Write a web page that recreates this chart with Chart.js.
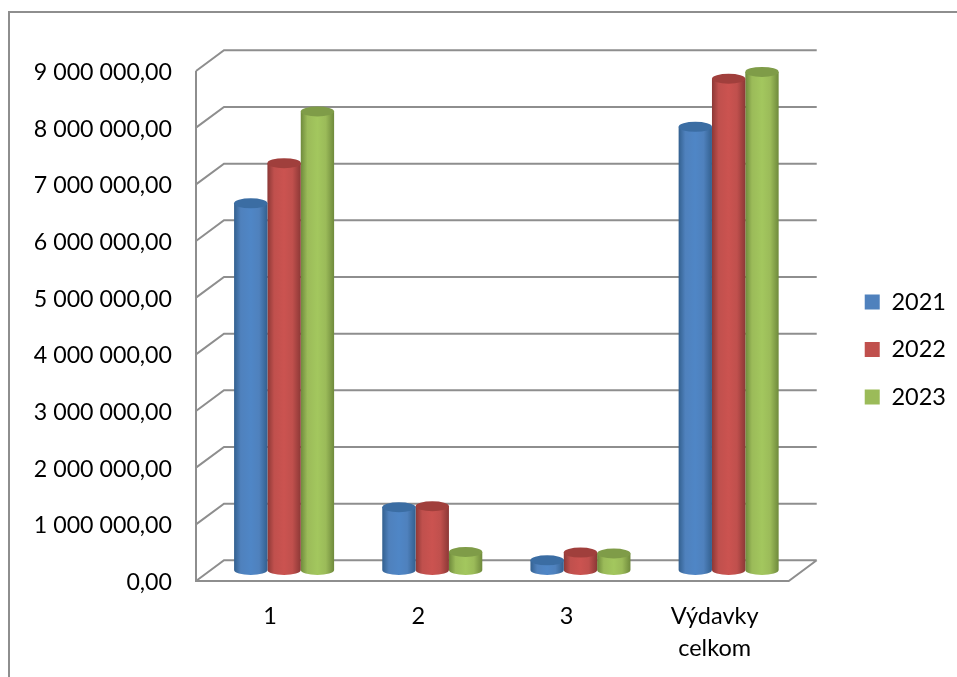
<!DOCTYPE html>
<html>
<head>
<meta charset="utf-8">
<title>Výdavky</title>
<script src="https://cdn.jsdelivr.net/npm/chart.js@4"></script>
<style>
  html, body { margin: 0; padding: 0; background: #fff; overflow: hidden; }
  #wrap { position: absolute; left: 0; top: 0; width: 957px; height: 677px; }
</style>
</head>
<body>
<div id="wrap"><canvas id="chart"></canvas></div>
<script>
const categories = ["1", "2", "3", ["Výdavky", "celkom"]];
const years = ["2021", "2022", "2023"];
const values2021 = [6470000, 1106000, 170000, 7820000];
const values2022 = [7180000, 1124000, 307000, 8670000];
const values2023 = [8090000, 318000, 290000, 8790000];
const yTickLabels = ["0,00", "1 000 000,00", "2 000 000,00", "3 000 000,00", "4 000 000,00",
  "5 000 000,00", "6 000 000,00", "7 000 000,00", "8 000 000,00", "9 000 000,00"];

const flat = ["#4f81bd", "#c0504d", "#9bbb59"];
const edge = ["#33608f", "#8c3836", "#6f8a3c"];
const mid = ["#4f86c6", "#cb5350", "#a3c75e"];
const cap = ["#3b6da3", "#a03f3c", "#7f9c48"];

const wallColor = "#8e8e8e";
const depthX = 28, depthY = 20.7; // how far the back wall sits from the front plane
const font = { family: "Lato", size: 23.5 };

// walls, floor and cylinders, all placed from the chart's own scales
const fake3d = {
  id: "fake3d",
  beforeDatasetsDraw(chart) {
    const { ctx, scales: { x, y } } = chart;
    const left = x.left, right = x.right;
    ctx.save();
    ctx.strokeStyle = wallColor;
    ctx.lineWidth = 2;
    ctx.beginPath();
    ctx.moveTo(left, y.getPixelForValue(9000000));
    ctx.lineTo(left, y.getPixelForValue(0));
    ctx.lineTo(right, y.getPixelForValue(0));
    ctx.lineTo(right + depthX, y.getPixelForValue(0) - depthY);
    for (let i = 0; i < yTickLabels.length; i++) {
      const py = y.getPixelForValue(i * 1000000);
      ctx.moveTo(left, py);
      ctx.lineTo(left + depthX, py - depthY);
      ctx.lineTo(right + depthX, py - depthY);
    }
    ctx.stroke();
    ctx.restore();
  },
  beforeDatasetDraw(chart, args) {
    const { ctx } = chart;
    const i = args.index;
    const shiftX = depthX / 2, shiftY = -11;
    chart.getDatasetMeta(i).data.forEach((bar) => {
      const rx = bar.width / 2, ry = 5;
      const cx = bar.x + shiftX, top = bar.y + shiftY, base = bar.base + shiftY;
      const g = ctx.createLinearGradient(cx - rx, 0, cx + rx, 0);
      g.addColorStop(0, edge[i]);
      g.addColorStop(0.2, flat[i]);
      g.addColorStop(0.5, mid[i]);
      g.addColorStop(0.75, flat[i]);
      g.addColorStop(1, edge[i]);
      ctx.save();
      ctx.fillStyle = g;
      ctx.beginPath();
      ctx.moveTo(cx - rx, top);
      ctx.lineTo(cx - rx, base);
      ctx.ellipse(cx, base, rx, ry, 0, Math.PI, 0, true);
      ctx.lineTo(cx + rx, top);
      ctx.closePath();
      ctx.fill();
      ctx.fillStyle = cap[i];
      ctx.beginPath();
      ctx.ellipse(cx, top, rx, ry, 0, 0, Math.PI * 2);
      ctx.fill();
      ctx.restore();
    });
    return false;
  },
  // outer frame, only the top and left edges fall inside the picture
  afterDraw(chart) {
    const { ctx } = chart;
    ctx.save();
    ctx.strokeStyle = wallColor;
    ctx.lineWidth = 2;
    ctx.beginPath();
    ctx.moveTo(9, 677);
    ctx.lineTo(9, 12);
    ctx.lineTo(957, 12);
    ctx.stroke();
    ctx.restore();
  },
};

new Chart(document.getElementById("chart"), {
  type: "bar",
  data: {
    labels: categories,
    datasets: [
      { label: years[0], data: values2021, backgroundColor: flat[0] },
      { label: years[1], data: values2022, backgroundColor: flat[1] },
      { label: years[2], data: values2023, backgroundColor: flat[2] },
    ],
  },
  options: {
    responsive: true,
    maintainAspectRatio: false,
    animation: false,
    events: [],
    categoryPercentage: 0.675,
    barPercentage: 1,
    layout: { padding: { left: 0, right: 1, top: 22, bottom: 0 } },
    plugins: {
      tooltip: { enabled: false },
      legend: {
        position: "right",
        labels: { boxWidth: 15, boxHeight: 15, padding: 24, color: "#000", font },
      },
    },
    scales: {
      x: {
        grid: { display: false },
        border: { display: false },
        ticks: { color: "#000", padding: 12, maxRotation: 0, autoSkip: false, font: { ...font, lineHeight: 1.35 } },
        afterFit(s) { s.height = 96; },
      },
      y: {
        min: 0,
        max: 9000000,
        grid: { display: false },
        border: { display: false },
        ticks: {
          stepSize: 1000000,
          color: "#000",
          padding: 16,
          labelOffset: 1.5,
          font: { ...font, size: 23.2 },
          callback: (v) => yTickLabels[Math.round(v / 1000000)],
        },
        afterFit(s) { s.width = 196; },
      },
      // keeps the gap between the floor and the legend
      gap: {
        position: "right",
        grid: { display: false },
        border: { display: false },
        ticks: { display: false },
        afterFit(s) { s.width = 52; },
      },
      // room above the top of the walls, so the legend stays centred higher up
      headroom: {
        axis: "x",
        position: "top",
        grid: { display: false },
        border: { display: false },
        ticks: { display: false },
        afterFit(s) { s.height = 49; },
      },
    },
  },
  plugins: [fake3d],
});
</script>
</body>
</html>
